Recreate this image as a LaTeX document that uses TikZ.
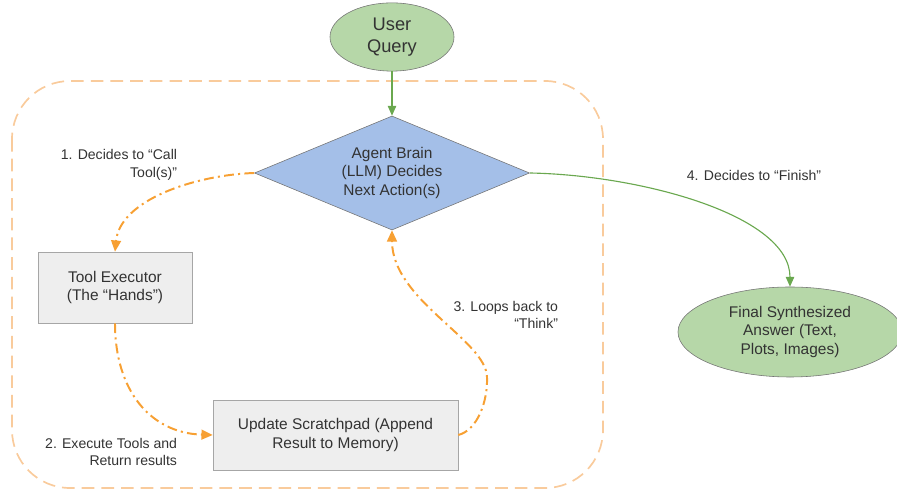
\documentclass[tikz,border=0pt]{standalone}
\usepackage{fontspec}
\setmainfont{Liberation Sans}
\usepackage{tikz}
\usetikzlibrary{arrows.meta,shapes.geometric}

\definecolor{termgreen}{HTML}{B6D7A8}
\definecolor{linkgreen}{HTML}{6AA84F}
\definecolor{brainblue}{HTML}{A4BFE8}
\definecolor{boxgray}{HTML}{EEEEEE}
\definecolor{loopor}{HTML}{F7A033}
\definecolor{frameor}{HTML}{F9CB9C}
\definecolor{txtgray}{HTML}{333333}

\begin{document}
\begin{tikzpicture}[
  x=0.025cm, y=-0.025cm,
  every node/.style={text=txtgray},
  termnode/.style={ellipse, draw=black!55, fill=termgreen, align=center,
    font=\fontsize{11}{13.5}\selectfont},
  brainnode/.style={diamond, aspect=2.4, draw=black!55, fill=brainblue, align=center,
    inner sep=0pt, minimum width=6.875cm, minimum height=2.85cm,
    font=\fontsize{11}{13.5}\selectfont},
  stepbox/.style={rectangle, draw=black!35, fill=boxgray, align=center,
    font=\fontsize{11}{13.5}\selectfont},
  lbl/.style={align=right, anchor=east, font=\fontsize{10}{12.5}\selectfont},
  loop/.style={-{Triangle[length=8pt,width=7pt]}, loopor, line width=1.4pt,
    dash pattern=on 7pt off 3pt on 1.5pt off 3pt},
  go/.style={-{Triangle[length=7pt,width=6pt]}, linkgreen, line width=0.8pt},
  frame/.style={frameor, line width=1.2pt, dash pattern=on 9pt off 5pt,
    rounded corners=1.45cm},
]
\useasboundingbox (0,0) rectangle (897,490);

% Agent loop frame
\draw[frame] (12,81) rectangle (603,488);

% Nodes
\node[termnode, minimum width=3.1cm, minimum height=1.45cm,
  font=\fontsize{13}{16}\selectfont] (query) at (392,37) {User\\Query};
\node[brainnode] (brain) at (392,173) {Agent Brain\\(LLM) Decides\\Next Action(s)};
\node[stepbox, minimum width=3.85cm, minimum height=1.775cm] (tool) at (115,287.5)
  {Tool Executor\\(The “Hands”)};
\node[stepbox, minimum width=6.125cm, minimum height=1.75cm] (scratch) at (335.5,435)
  {Update Scratchpad (Append\\Result to Memory)};
\node[termnode, minimum width=5.6cm, minimum height=2.25cm] (final) at (790,332)
  {Final Synthesized\\Answer (Text,\\Plots, Images)};

% Arrows
\draw[go] (query) -- (brain);
\draw[loop] (brain.west) .. controls (195,175) and (120,200) .. (tool.north);
\draw[loop] (tool.south) .. controls (115,390) and (150,433) .. (scratch.west);
\draw[loop] (scratch.east) .. controls (478,430) and (488,400) .. (487,377)
  .. controls (486,340) and (392,300) .. (brain.south);
\draw[go] (brain.east) .. controls (640,175) and (790,215) .. (final.north);

% Step labels
\node[lbl] (l1) at (182,165) {1. Decides to “Call\\Tool(s)”};
\node[lbl] (l2) at (182,452) {2. Execute Tools and\\Return results};
\node[lbl] (l3) at (563,315) {3. Loops back to\\“Think”};
\node[font=\fontsize{10}{12.5}\selectfont] (l4) at (754,175) {4. Decides to “Finish”};

\end{tikzpicture}
\end{document}
